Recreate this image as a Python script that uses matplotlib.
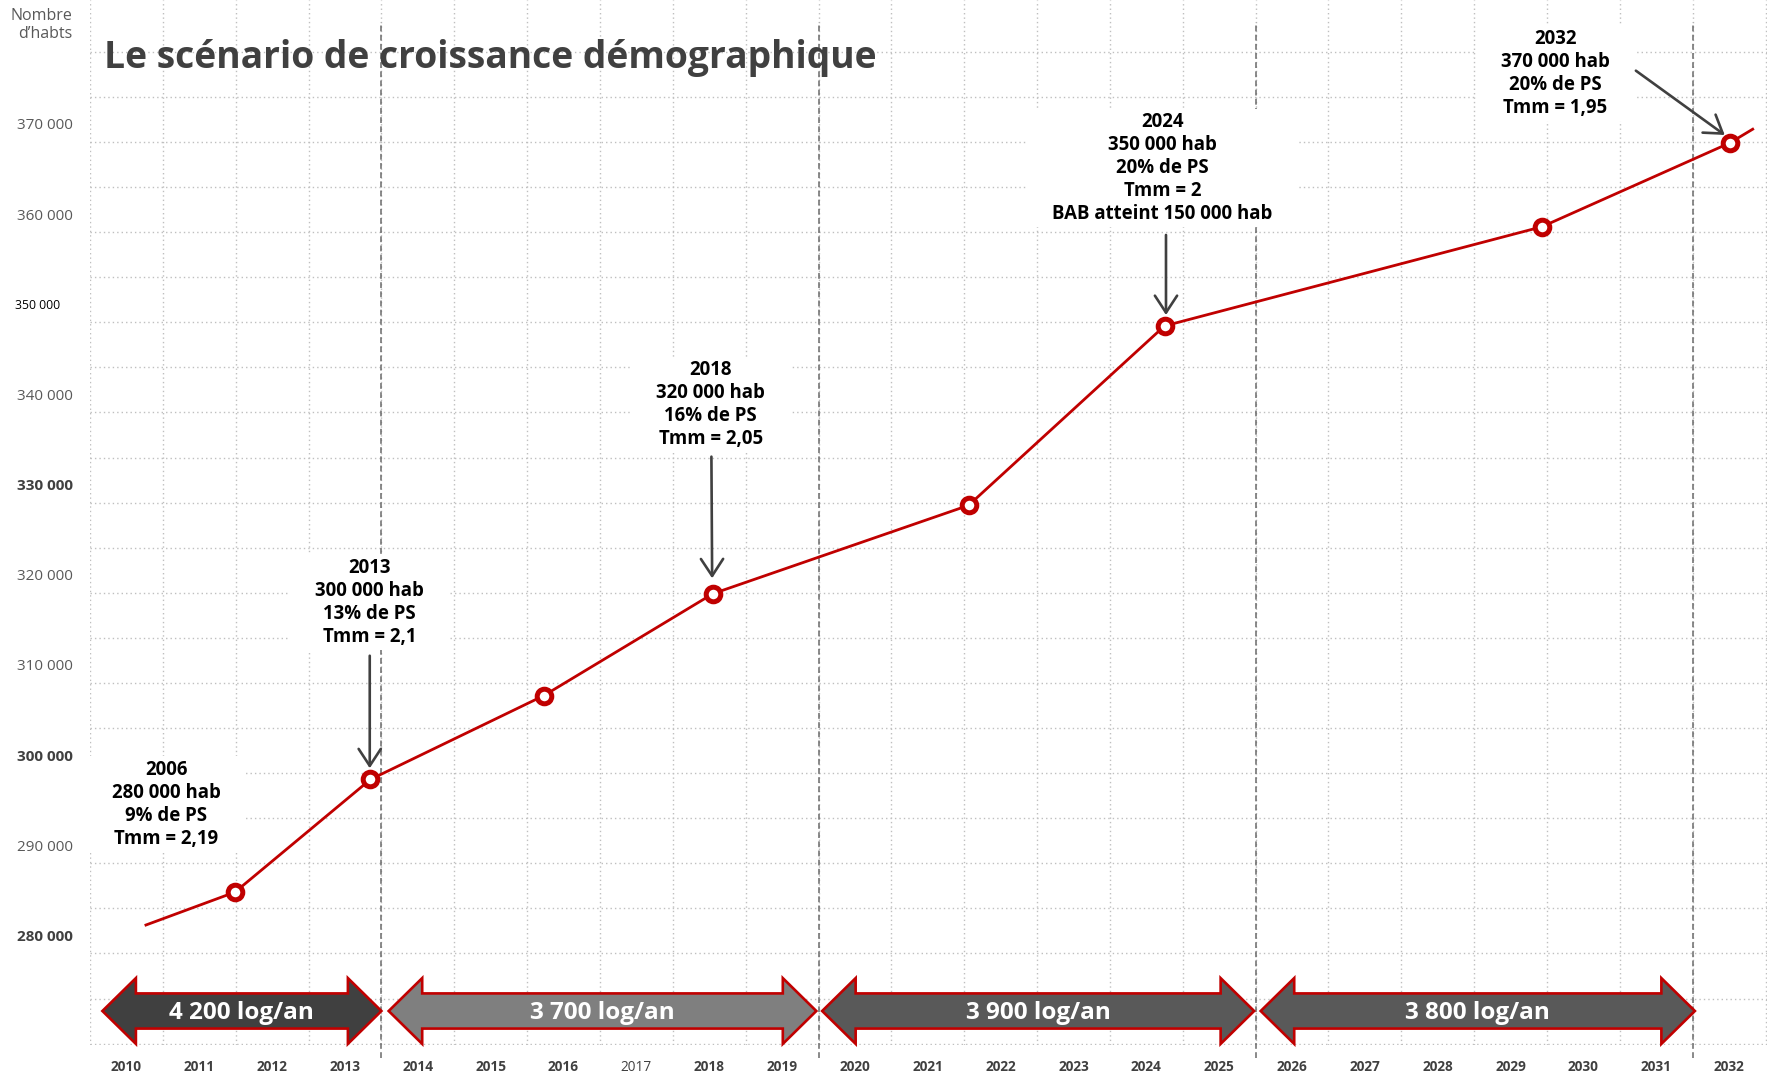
import matplotlib
matplotlib.use("Agg")
import matplotlib.pyplot as plt
import numpy as np
from matplotlib.patches import Polygon
from matplotlib.path import Path

plt.rcParams['font.family'] = ['Open Sans', 'DejaVu Sans']

# ---------------- data ----------------
line_years = [2010.25, 2011.49, 2013.35, 2015.73, 2018.05, 2021.56, 2024.25, 2029.43, 2032.01, 2032.34]
line_pop = [281100, 284800, 297300, 306600, 317900, 327700, 347600, 358600, 367900, 369500]
marker_idx = [1, 2, 3, 4, 5, 6, 7, 8]

ytick_values = [280000, 290000, 300000, 310000, 320000, 330000, 340000, 350000, 360000, 370000]
ytick_labels = ['280 000', '290 000', '300 000', '310 000', '320 000',
                '330 000', '340 000', '350 000', '360 000', '370 000']
ytick_style = ['bold', 'normal', 'bold', 'normal', 'normal',
               'bold', 'normal', 'small', 'normal', 'normal']

xtick_years = list(range(2010, 2033))
xtick_labels = [str(y) for y in xtick_years]

annot_texts = [
    "2006\n280 000 hab\n9% de PS\nTmm = 2,19",
    "2013\n300 000 hab\n13% de PS\nTmm = 2,1",
    "2018\n320 000 hab\n16% de PS\nTmm = 2,05",
    "2024\n350 000 hab\n20% de PS\nTmm = 2\nBAB atteint 150 000 hab",
    "2032\n370 000 hab\n20% de PS\nTmm = 1,95",
]
annot_text_x = [2010.55, 2013.335, 2018.02, 2024.22, 2029.614]
annot_text_y = [294550, 316920, 338880, 365100, 375630]
arrow_from = [None, (2013.34, 311020), (2018.03, 333100), (2024.27, 357690), (2030.72, 375910)]
arrow_to = [None, (2013.34, 298540), (2018.04, 319610), (2024.27, 348810), (2031.94, 368780)]

periods = [(2009.67, 2013.50), (2013.60, 2019.47), (2019.55, 2025.48), (2025.57, 2031.53)]
period_labels = ['4 200 log/an', '3 700 log/an', '3 900 log/an', '3 800 log/an']
period_colors = ['#404040', '#7F7F7F', '#595959', '#595959']
boundaries = [2013.5, 2019.5, 2025.5, 2031.5]

title = "Le scénario de croissance démographique"
ylabel = "Nombre\nd’habts"

# ---------------- layout ----------------
W, H = 1767, 1075
DPI = 100
AX_L, AX_R, AX_T, AX_B = 90, 1767, 0, 1045
X0 = 2009.5
PX_PER_YEAR = 72.85
Y_TOP = 383750
PX_PER_UNIT = 0.009016

fig = plt.figure(figsize=(W / DPI, H / DPI), dpi=DPI)
ax = fig.add_axes([AX_L / W, 1 - AX_B / H, (AX_R - AX_L) / W, (AX_B - AX_T) / H])
ax.set_xlim(X0, X0 + (AX_R - AX_L) / PX_PER_YEAR)
ax.set_ylim(Y_TOP - (AX_B - AX_T) / PX_PER_UNIT, Y_TOP)
for s in ax.spines.values():
    s.set_visible(False)
ax.set_axisbelow(True)

# grid via minor ticks (between labelled positions)
ax.set_xticks(np.arange(2009.5, 2033.0, 1.0), minor=True)
ax.set_yticks(np.arange(268000, 379000, 5000), minor=True)
ax.grid(which='minor', color='#BFBFBF', linestyle=(0, (1, 2.2)), linewidth=1.0)
ax.grid(which='major', visible=False)

ax.set_xticks(xtick_years, xtick_labels)
ax.set_yticks(ytick_values, ytick_labels)
ax.tick_params(axis='both', which='both', length=0)
ax.tick_params(axis='y', pad=12.2)
ax.tick_params(axis='x', pad=11)

for lab, st in zip(ax.get_yticklabels(), ytick_style):
    if st == 'bold':
        lab.set_fontweight('bold'); lab.set_color('#404040'); lab.set_fontsize(11)
    elif st == 'small':
        lab.set_fontweight('normal'); lab.set_color('#000000'); lab.set_fontsize(8.8)
        lab.set_x(-13 / (AX_R - AX_L))
    else:
        lab.set_fontweight('normal'); lab.set_color('#595959'); lab.set_fontsize(11)

for lab in ax.get_xticklabels():
    lab.set_fontsize(9.8)
    lab.set_color('#404040')
    lab.set_fontweight('normal' if lab.get_text() == '2017' else 'bold')

# period boundaries (dashed)
ax.vlines(boundaries, Y_TOP - 1058 / PX_PER_UNIT, Y_TOP - 21.7 / PX_PER_UNIT,
          colors='#6A6A6A', linestyles=(0, (3.8, 2.2)), linewidth=1.1,
          zorder=2, clip_on=False)

# double arrows for housing periods
yc = 271616
hh = 3650
bh = 1950
head = 0.46
for (xl, xr), lab, col in zip(periods, period_labels, period_colors):
    pts = [(xl, yc), (xl + head, yc + hh), (xl + head, yc + bh), (xr - head, yc + bh),
           (xr - head, yc + hh), (xr, yc), (xr - head, yc - hh), (xr - head, yc - bh),
           (xl + head, yc - bh), (xl + head, yc - hh)]
    ax.add_patch(Polygon(pts, closed=True, facecolor=col, edgecolor='#C00000',
                         linewidth=1.9, joinstyle='miter', zorder=3, clip_on=False))
    ax.text((xl + xr) / 2, yc - 230, lab, ha='center', va='center', color='white',
            fontsize=17.5, fontweight='bold', zorder=4)

# main line
ax.plot(line_years, line_pop, color='#C00000', linewidth=2.0, zorder=5,
        solid_capstyle='butt')
ax.plot([line_years[i] for i in marker_idx], [line_pop[i] for i in marker_idx],
        linestyle='none', marker='o', markersize=10.5, markeredgewidth=3.6,
        markerfacecolor='white', markeredgecolor='#C00000', zorder=6)


def wide_box(x0, y0, width, height, mutation_size, padx=1.35, pady=0.18):
    px = padx * mutation_size
    py = pady * mutation_size
    xa, ya = x0 - px, y0 - py
    xb, yb = x0 + width + px, y0 + height + py
    return Path([(xa, ya), (xb, ya), (xb, yb), (xa, yb), (xa, ya)], closed=True)


for txt, tx, ty, a0, a1 in zip(annot_texts, annot_text_x, annot_text_y, arrow_from, arrow_to):
    ax.text(tx, ty, txt, ha='center', va='center', fontsize=13.4, fontweight='bold',
            color='black', linespacing=1.2, zorder=4,
            bbox=dict(boxstyle=wide_box, facecolor='white', edgecolor='none'))
    if a0 is not None:
        ax.annotate('', xy=a1, xytext=a0,
                    arrowprops=dict(arrowstyle='->,head_length=0.61,head_width=0.4',
                                    color='#404040', linewidth=1.9, mutation_scale=20,
                                    shrinkA=0, shrinkB=0),
                    zorder=7)

# title and axis label
t = fig.text(103.5 / W, 1 - 68.3 / H, title, ha='left', va='baseline',
             fontsize=27, fontweight='bold', color='#404040')
fig.canvas.draw()
r = fig.canvas.get_renderer()
bb = t.get_window_extent(r)
t.set_fontsize(27 * 775 / bb.width)

fig.text(72.7 / W, 1 - 25.3 / H, ylabel, ha='right', va='center', multialignment='right',
         fontsize=11.5, color='#595959', linespacing=1.2)

fig.savefig('out.png', dpi=DPI)
